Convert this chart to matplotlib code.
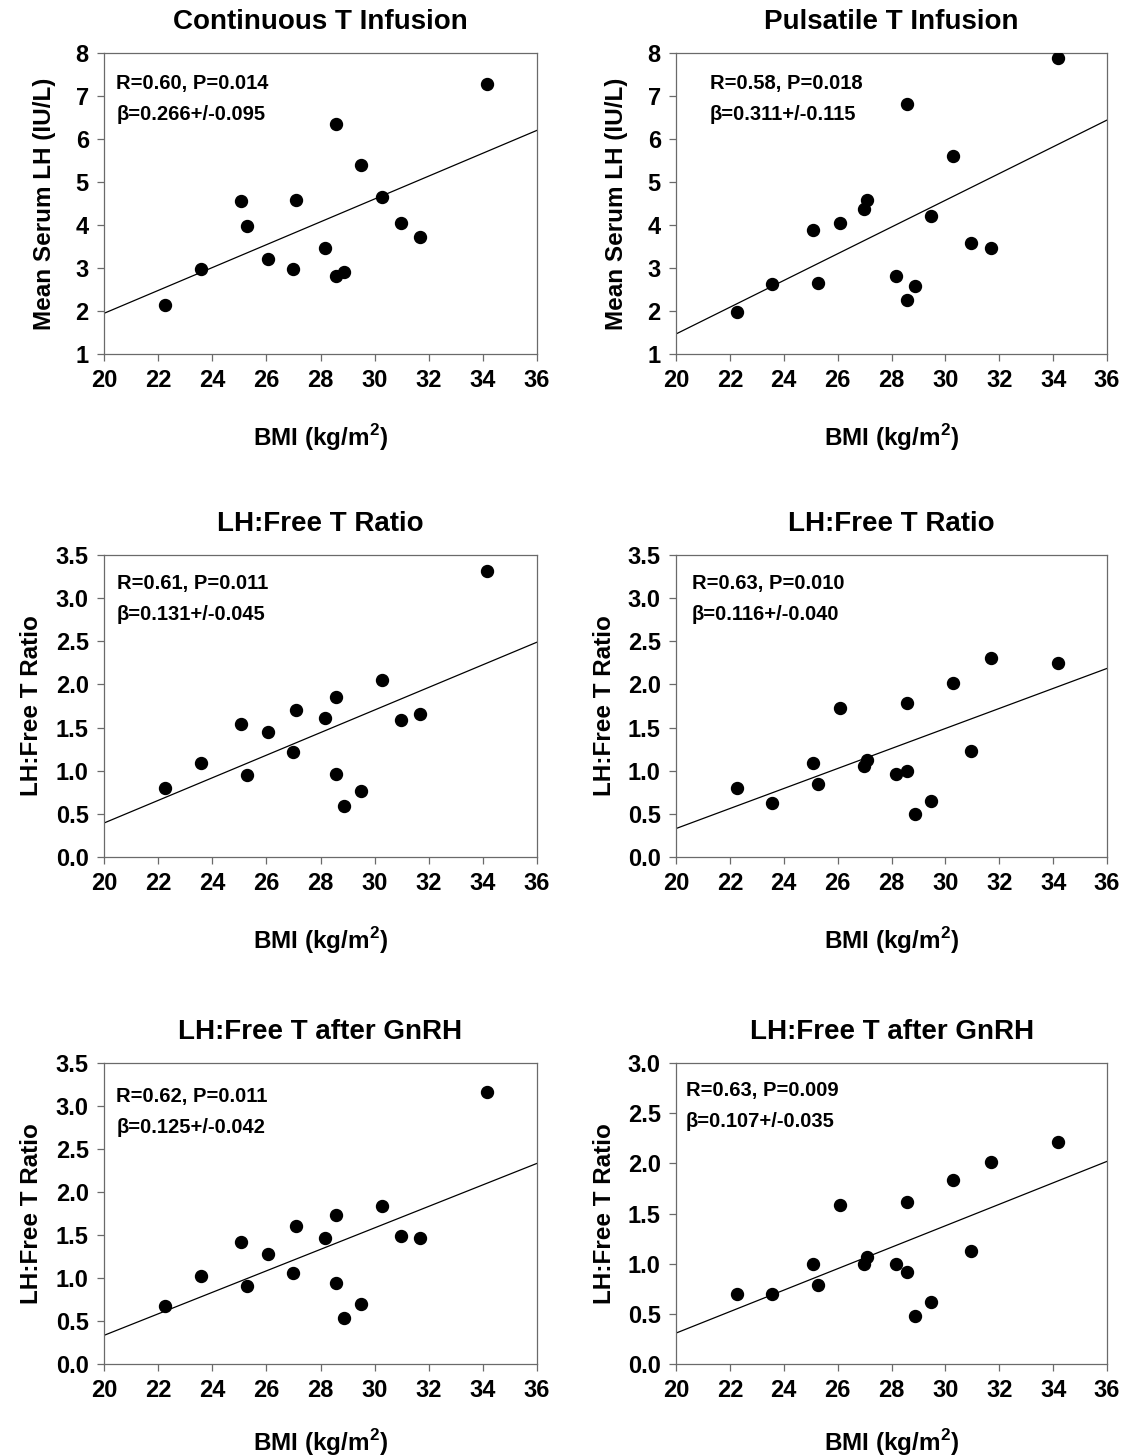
import numpy as np
import matplotlib
matplotlib.use("Agg")
import matplotlib.pyplot as plt

plt.rcParams["font.family"] = ["Liberation Sans", "DejaVu Sans"]
plt.rcParams["font.weight"] = "bold"
plt.rcParams["mathtext.fontset"] = "custom"
plt.rcParams["mathtext.rm"] = "Liberation Sans:bold"
plt.rcParams["mathtext.bf"] = "Liberation Sans:bold"

# BMI of each subject (same subjects in every panel)
bmi = [22.27, 23.58, 25.07, 25.27, 26.07, 26.97, 27.08, 28.17,
       28.58, 28.58, 28.87, 29.48, 30.27, 30.96, 31.69, 34.17]

lh_cont = [2.14, 2.97, 4.56, 3.97, 3.22, 2.98, 4.58, 3.47,
           6.36, 2.81, 2.91, 5.39, 4.66, 4.04, 3.73, 7.27]
lh_puls = [1.97, 2.62, 3.88, 2.64, 4.04, 4.36, 4.59, 2.81,
           6.81, 2.26, 2.58, 4.21, 5.60, 3.59, 3.46, 7.89]
ratio_cont = [0.80, 1.09, 1.54, 0.95, 1.45, 1.22, 1.70, 1.61,
              1.86, 0.96, 0.59, 0.76, 2.05, 1.59, 1.66, 3.32]
ratio_puls = [0.80, 0.63, 1.09, 0.85, 1.73, 1.06, 1.13, 0.96,
              1.78, 1.00, 0.50, 0.65, 2.02, 1.23, 2.31, 2.25]
gnrh_cont = [0.68, 1.02, 1.42, 0.91, 1.28, 1.06, 1.61, 1.46,
             1.73, 0.94, 0.54, 0.70, 1.84, 1.49, 1.47, 3.16]
gnrh_puls = [0.70, 0.70, 1.00, 0.79, 1.58, 1.00, 1.07, 1.00,
             1.61, 0.92, 0.48, 0.62, 1.83, 1.13, 2.01, 2.21]

series = [lh_cont, lh_puls, ratio_cont, ratio_puls, gnrh_cont, gnrh_puls]
titles = ["Continuous T Infusion", "Pulsatile T Infusion",
          "LH:Free T Ratio", "LH:Free T Ratio",
          "LH:Free T after GnRH", "LH:Free T after GnRH"]
ylabels = ["Mean Serum LH (IU/L)", "Mean Serum LH (IU/L)",
           "LH:Free T Ratio", "LH:Free T Ratio",
           "LH:Free T Ratio", "LH:Free T Ratio"]
stats_r = ["R=0.60, P=0.014", "R=0.58, P=0.018", "R=0.61, P=0.011",
           "R=0.63, P=0.010", "R=0.62, P=0.011", "R=0.63, P=0.009"]
stats_b = ["\u03b2=0.266+/-0.095", "\u03b2=0.311+/-0.115",
           "\u03b2=0.131+/-0.045", "\u03b2=0.116+/-0.040",
           "\u03b2=0.125+/-0.042", "\u03b2=0.107+/-0.035"]
slopes = [0.266, 0.311, 0.131, 0.116, 0.125, 0.107]
intercepts = [-3.375, -4.755, -2.226, -1.99, -2.167, -1.832]
ylims = [(1, 8), (1, 8), (0, 3.5), (0, 3.5), (0, 3.5), (0, 3.0)]
ysteps = [1, 1, 0.5, 0.5, 0.5, 0.5]

# layout (figure fractions)
lefts = [0.0924, 0.6004]
widths = [0.3845, 0.3828]
bottoms = [0.7569, 0.4114, 0.0632]
heights = [0.2067, 0.2074, 0.2067]
text_x = [0.028, 0.079, 0.03, 0.037, 0.028, 0.023]
text_y = [0.90, 0.90, 0.907, 0.907, 0.89, 0.91]
xlab_y = [-0.225, -0.225, -0.225, -0.225, -0.21, -0.21]
ylab_x = [-0.111, -0.112, -0.14, -0.14, -0.14, -0.14]

fig = plt.figure(figsize=(11.26, 14.56), dpi=100)
spine_col = "#6a6a6a"
for i in range(6):
  row, col = i // 2, i % 2
  ax = fig.add_axes([lefts[col], bottoms[row], widths[col], heights[row]])
  ax.plot(bmi, series[i], "o", color="black", markersize=8.6, zorder=3)
  xx = np.array([20, 36])
  ax.plot(xx, intercepts[i] + slopes[i] * xx, color="black", linewidth=0.9)
  ax.set_xlim(20, 36)
  ax.set_ylim(*ylims[i])
  ax.set_xticks(np.arange(20, 37, 2))
  yt = np.arange(ylims[i][0], ylims[i][1] + 0.001, ysteps[i])
  ax.set_yticks(yt)
  if ysteps[i] < 1:
    ax.set_yticklabels(["%.1f" % v for v in yt])
  else:
    ax.set_yticklabels(["%d" % v for v in yt])
  for s in ax.spines.values():
    s.set_color(spine_col)
    s.set_linewidth(0.9)
  ax.tick_params(direction="out", length=5, width=0.9, color=spine_col,
                 labelsize=17, pad=6)
  ax.set_title(titles[i], fontsize=20, fontweight="bold", pad=17)
  ax.set_xlabel(r"BMI (kg/m$^{2}$)", fontsize=17.5, fontweight="bold")
  ax.xaxis.set_label_coords(0.5, xlab_y[i])
  ax.set_ylabel(ylabels[i], fontsize=17.5, fontweight="bold")
  ax.yaxis.set_label_coords(ylab_x[i], 0.5)
  ax.text(text_x[i], text_y[i], stats_r[i], transform=ax.transAxes,
          fontsize=14.5, fontweight="bold", va="center", ha="left")
  ax.text(text_x[i], text_y[i] - 0.103, stats_b[i], transform=ax.transAxes,
          fontsize=14.5, fontweight="bold", va="center", ha="left")

fig.savefig("out.png", dpi=100)
